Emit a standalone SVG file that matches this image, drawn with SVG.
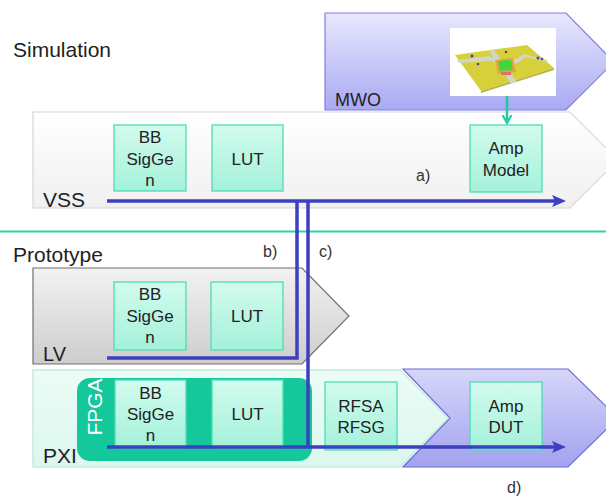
<svg xmlns="http://www.w3.org/2000/svg" width="606" height="496" viewBox="0 0 606 496">
  <defs>
    <linearGradient id="gBox" x1="0" y1="0" x2="0" y2="1">
      <stop offset="0" stop-color="#d2fbee"/>
      <stop offset="1" stop-color="#a4f1d9"/>
    </linearGradient>
    <linearGradient id="gMwo" x1="0" y1="0" x2="0" y2="1">
      <stop offset="0" stop-color="#e8e8fd"/>
      <stop offset="1" stop-color="#a9a9f2"/>
    </linearGradient>
    <linearGradient id="gDut" x1="0" y1="0" x2="0" y2="1">
      <stop offset="0" stop-color="#d6d6fa"/>
      <stop offset="1" stop-color="#a2a2ef"/>
    </linearGradient>
    <linearGradient id="gVss" x1="0" y1="0" x2="0" y2="1">
      <stop offset="0" stop-color="#ffffff"/>
      <stop offset="1" stop-color="#f0f0f0"/>
    </linearGradient>
    <linearGradient id="gLv" x1="0" y1="0" x2="0" y2="1">
      <stop offset="0" stop-color="#f2f2f2"/>
      <stop offset="1" stop-color="#cdcdcd"/>
    </linearGradient>
    <linearGradient id="gPxi" x1="0" y1="0" x2="0" y2="1">
      <stop offset="0" stop-color="#ecfcf6"/>
      <stop offset="1" stop-color="#dcf7ee"/>
    </linearGradient>
    <marker id="arrow" markerUnits="userSpaceOnUse" markerWidth="14" markerHeight="14" viewBox="0 0 14 14" refX="4" refY="7" orient="auto">
      <path d="M0,1 L14,7 L0,13 L3,7 z" fill="#3b3fc2"/>
    </marker>
    <marker id="tealArrow" markerUnits="userSpaceOnUse" markerWidth="10" markerHeight="10" viewBox="0 0 10 10" refX="5" refY="5" orient="auto">
      <path d="M0,0.5 L8,5 L0,9.5" fill="none" stroke="#22c9a0" stroke-width="2.2"/>
    </marker>
  </defs>
  <style>
    .lbl { font-family: "Liberation Sans", Arial, sans-serif; fill: #222; }
    .head { font-size: 21px; }
    .box { fill: url(#gBox); stroke: #4fdcb2; stroke-width: 1.3; }
    .bt { font-family: "Liberation Sans", Arial, sans-serif; font-size: 17px; fill: #222; text-anchor: middle; }
    .note { font-family: "Liberation Sans", Arial, sans-serif; font-size: 16px; fill: #333; }
    .flow { fill: none; stroke: #3b3fc2; stroke-width: 3.5; }
  </style>

  <rect width="606" height="496" fill="#ffffff"/>

  <!-- section headings and divider -->
  <text class="lbl head" x="13" y="57">Simulation</text>
  <line x1="0" y1="231.5" x2="606" y2="231.5" stroke="#2fd3a6" stroke-width="2"/>
  <text class="lbl head" x="13" y="262">Prototype</text>

  <!-- MWO -->
  <g id="mwo">
    <polygon points="325,13 566,13 614,62 566,110 325,110" fill="url(#gMwo)" stroke="#7f7fe2" stroke-width="1.2"/>
    <rect x="450" y="28" width="106" height="68" fill="#ffffff"/>
    <!-- board render -->
    <polygon points="455,55 527,45 554,68 481,91" fill="#d6d03a"/>
    <polygon points="481,91 554,68 554,70 481,93" fill="#b9b340"/>
    <polygon points="457,60 490,56 498,61 516,59 524,54 547,60 548,62 525,57 518,63 500,66 492,61 459,63" fill="#d4d4c8"/>
    <polygon points="489,51 494,50 517,82 511,84" fill="#d4d4c8"/>
    <polygon points="495,60 513,58 516,72 498,74" fill="#e8a040"/>
    <polygon points="498,61 511,60 513,70 500,71" fill="#3fd83a"/>
    <rect x="501" y="72" width="10" height="3" fill="#e07070"/>
    <circle cx="472" cy="56" r="1.5" fill="#5a3a9a"/>
    <circle cx="478" cy="64" r="1.3" fill="#5a3a9a"/>
    <circle cx="506" cy="52" r="1.3" fill="#5a3a9a"/>
    <circle cx="538" cy="58" r="1.5" fill="#5a3a9a"/>
    <circle cx="542" cy="59" r="1.3" fill="#5a3a9a"/>
    <text class="lbl" x="335" y="106" font-size="18">MWO</text>
  </g>

  <!-- VSS -->
  <g id="vss">
    <polygon points="33,112 570,112 618,160 570,208 33,208" fill="url(#gVss)" stroke="#d6d6d6" stroke-width="1.2"/>
    <text class="lbl" x="43" y="207" font-size="21">VSS</text>
    <text class="note" x="416" y="181">a)</text>
  </g>
  <g id="vss-bbsiggen">
    <rect class="box" x="114" y="125" width="72" height="66"/>
    <text class="bt" x="150" y="143">BB</text>
    <text class="bt" x="150" y="165">SigGe</text>
    <text class="bt" x="150" y="186">n</text>
  </g>
  <g id="vss-lut">
    <rect class="box" x="212" y="125" width="71" height="66"/>
    <text class="bt" x="247.5" y="165">LUT</text>
  </g>
  <g id="vss-amp-model">
    <rect class="box" x="470" y="125" width="72" height="67"/>
    <text class="bt" x="506" y="154">Amp</text>
    <text class="bt" x="506" y="176">Model</text>
  </g>

  <!-- LV -->
  <g id="lv">
    <polygon points="33,268 302,268 349,316 302,364 33,364" fill="url(#gLv)" stroke="#6f6f6f" stroke-width="1.2"/>
    <text class="lbl" x="43" y="361" font-size="20">LV</text>
  </g>
  <g id="lv-bbsiggen">
    <rect class="box" x="114" y="282" width="72" height="68"/>
    <text class="bt" x="150" y="300">BB</text>
    <text class="bt" x="150" y="322">SigGe</text>
    <text class="bt" x="150" y="343">n</text>
  </g>
  <g id="lv-lut">
    <rect class="box" x="211" y="282" width="72" height="68"/>
    <text class="bt" x="247" y="322">LUT</text>
  </g>

  <!-- Amp DUT stage -->
  <g id="dut">
    <polygon points="403,369 568,369 618,418 568,467 403,467 450,418" fill="url(#gDut)" stroke="#6a6ad8" stroke-width="1.2"/>
  </g>

  <!-- PXI -->
  <g id="pxi">
    <polygon points="33,370 400,370 448,418 400,467 33,467" fill="url(#gPxi)" stroke="#c4ebdf" stroke-width="1.5"/>
    <text class="lbl" x="43" y="463" font-size="21">PXI</text>
  </g>
  <g id="fpga">
    <rect x="77" y="378" width="235" height="83" rx="13" fill="#14c89b"/>
    <text x="102" y="407" transform="rotate(-90 102 407)" font-family="Liberation Sans, Arial, sans-serif" font-size="21" fill="#ffffff" text-anchor="middle">FPGA</text>
  </g>
  <g id="pxi-bbsiggen">
    <rect class="box" x="115" y="380" width="71" height="68"/>
    <text class="bt" x="150.5" y="399">BB</text>
    <text class="bt" x="150.5" y="420">SigGe</text>
    <text class="bt" x="150.5" y="441">n</text>
  </g>
  <g id="pxi-lut">
    <rect class="box" x="212" y="380" width="71" height="68"/>
    <text class="bt" x="247.5" y="420">LUT</text>
  </g>
  <g id="pxi-rfsa-rfsg">
    <rect class="box" x="325" y="382" width="72" height="68"/>
    <text class="bt" x="361" y="412">RFSA</text>
    <text class="bt" x="361" y="433">RFSG</text>
  </g>
  <g id="amp-dut">
    <rect class="box" x="470" y="382" width="72" height="68"/>
    <text class="bt" x="506" y="412">Amp</text>
    <text class="bt" x="506" y="433">DUT</text>
  </g>

  <text class="note" x="263" y="257">b)</text>
  <text class="note" x="319" y="257">c)</text>
  <text class="note" x="507" y="493">d)</text>

  <!-- connectors -->
  <g id="connectors">
    <line x1="507" y1="96" x2="507" y2="120" stroke="#22c9a0" stroke-width="2.5" marker-end="url(#tealArrow)"/>
    <path class="flow" d="M107,201 H556" marker-end="url(#arrow)"/>
    <path class="flow" d="M297,201 V358 H107"/>
    <path class="flow" d="M308,201 V447"/>
    <path class="flow" d="M107,447 H556" marker-end="url(#arrow)"/>
  </g>
</svg>
